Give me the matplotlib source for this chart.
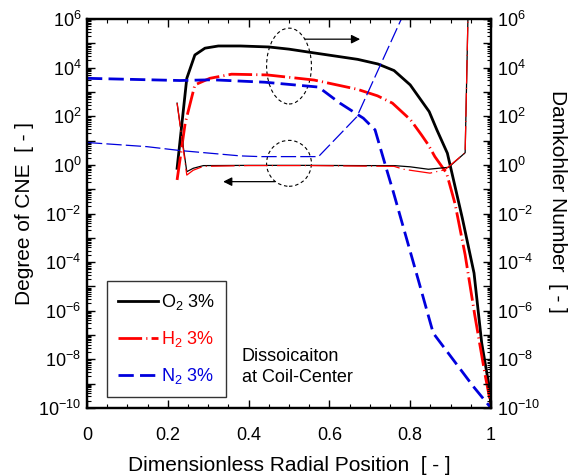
import numpy as np
import matplotlib
matplotlib.use("Agg")
import matplotlib.pyplot as plt
from matplotlib.patches import Ellipse
from matplotlib.ticker import FixedLocator, LogLocator, NullFormatter, MultipleLocator

plt.rcParams['font.family'] = ['Liberation Sans', 'DejaVu Sans']
plt.rcParams['mathtext.default'] = 'regular'
plt.rcParams['axes.unicode_minus'] = False
plt.rcParams['lines.scale_dashes'] = False

# ---- data (log10 of values) ----
o2_dam_x = [0.223, 0.247, 0.267, 0.292, 0.325, 0.38, 0.45, 0.50, 0.56, 0.67, 0.72, 0.76,
            0.80, 0.847, 0.866, 0.892, 0.929, 0.958, 0.977, 0.996, 1.0]
o2_dam_log = [-0.14, 3.56, 4.52, 4.80, 4.89, 4.89, 4.85, 4.76, 4.61, 4.34, 4.15, 3.88,
              3.29, 2.19, 1.44, 0.48, -2.19, -4.45, -7.33, -9.17, -10.0]

h2_dam_x = [0.223, 0.243, 0.267, 0.304, 0.358, 0.446, 0.562, 0.669, 0.719, 0.756, 0.801,
            0.828, 0.845, 0.861, 0.890, 0.911, 0.936, 0.96, 0.985, 1.0]
h2_dam_log = [-0.62, 1.71, 3.29, 3.56, 3.73, 3.70, 3.49, 3.11, 2.84, 2.54, 1.85,
              1.23, 0.82, 0.34, -0.34, -1.6, -3.7, -6.2, -8.6, -9.9]

n2_dam_x = [0.0, 0.23, 0.31, 0.44, 0.573, 0.626, 0.684, 0.713, 0.742, 0.758, 0.820,
            0.857, 0.956, 1.0]
n2_dam_log = [3.56, 3.47, 3.50, 3.40, 3.20, 2.54, 1.92, 1.44, -0.21, -1.10, -4.73,
              -6.92, -9.11, -10.0]

o2_cne_x = [0.223, 0.247, 0.263, 0.288, 0.40, 0.55, 0.68, 0.76, 0.80, 0.845, 0.895,
            0.936, 0.943]
o2_cne_log = [2.54, -0.28, -0.14, -0.03, -0.02, -0.02, -0.03, -0.03, -0.08, -0.18,
              -0.10, 0.5, 6.1]

h2_cne_x = [0.223, 0.247, 0.263, 0.288, 0.40, 0.55, 0.68, 0.76, 0.783, 0.849, 0.886,
            0.936, 0.943]
h2_cne_log = [2.54, -0.42, -0.22, -0.06, -0.03, -0.03, -0.05, -0.06, -0.18, -0.34,
              -0.20, 0.5, 6.1]

n2_cne_x = [0.0, 0.148, 0.230, 0.379, 0.428, 0.573, 0.668, 0.775, 0.79]
n2_cne_log = [0.92, 0.75, 0.59, 0.37, 0.34, 0.34, 1.98, 5.89, 6.4]

labels = [r'O$_2$ 3%', r'H$_2$ 3%', r'N$_2$ 3%']
colors = ['black', 'red', '#0000dd']

x_ticks = [0, 0.2, 0.4, 0.6, 0.8, 1.0]
x_tick_labels = ['0', '0.2', '0.4', '0.6', '0.8', '1']
y_exps = list(range(-10, 7))

fig = plt.figure(figsize=(5.75, 4.76), dpi=100)
ax = fig.add_axes([87/575, 1 - 408/476, 404/575, 389/476])

def p(v):
    return np.power(10.0, np.array(v))

red_dash = (17, 3, 0.8, 3)
ax.plot(o2_dam_x, p(o2_dam_log), color=colors[0], lw=2.0, label=labels[0])
ax.plot(h2_dam_x, p(h2_dam_log), color=colors[1], lw=2.0, dashes=red_dash, label=labels[1])
ax.plot(n2_dam_x, p(n2_dam_log), color=colors[2], lw=2.0, dashes=(11, 4.5), label=labels[2])

ax.plot(o2_cne_x, p(o2_cne_log), color=colors[0], lw=0.9)
ax.plot(h2_cne_x, p(h2_cne_log), color=colors[1], lw=0.9, dashes=red_dash)
ax.plot(n2_cne_x, p(n2_cne_log), color=colors[2], lw=0.9, dashes=(11, 3))

ax.set_xlim(0, 1)

def style_y(a):
    a.set_yscale('log')
    a.set_ylim(1e-10, 1e6)
    a.yaxis.set_major_locator(FixedLocator([10.0**e for e in y_exps]))
    a.yaxis.set_minor_locator(LogLocator(base=10, subs=np.arange(2, 10), numticks=40))
    a.yaxis.set_minor_formatter(NullFormatter())
    a.set_yticks([10.0**e for e in y_exps])
    a.set_yticklabels([(r'$10^{%d}$' % e) if e % 2 == 0 else '' for e in y_exps])

style_y(ax)
ax.set_xticks(x_ticks)
ax.set_xticklabels(x_tick_labels)
ax.xaxis.set_minor_locator(MultipleLocator(0.05))

ax2 = ax.twinx()
style_y(ax2)

for a in (ax, ax2):
    a.tick_params(which='major', direction='in', length=6, width=1, labelsize=13, pad=4)
    a.tick_params(which='minor', direction='in', length=3, width=0.8)
    for s in a.spines.values():
        s.set_linewidth(1.6)
ax.tick_params(axis='x', which='both', top=True)
ax.tick_params(axis='x', which='major', pad=14)

ax.set_xlabel('Dimensionless Radial Position  [ - ]', fontsize=15, labelpad=8)
ax.set_ylabel('Degree of CNE  [ - ]', fontsize=15, labelpad=3)
ax2.set_ylabel('Damkohler Number  [ - ]', fontsize=15, rotation=270, labelpad=20)
ax2.yaxis.label.set_y(0.532)

# ellipses and arrows
ax.add_patch(Ellipse((0.5, 0.879), 0.111, 0.195, transform=ax.transAxes, fill=False,
                     ec='black', lw=0.8, ls=(0, (2.5, 2))))
ax.add_patch(Ellipse((0.5, 0.629), 0.111, 0.118, transform=ax.transAxes, fill=False,
                     ec='black', lw=0.8, ls=(0, (2.5, 2))))
ax.annotate('', xy=(0.676, 10**5.17), xytext=(0.540, 10**5.17),
            arrowprops=dict(arrowstyle='-|>', color='black', lw=0.9, mutation_scale=13,
                            shrinkA=0, shrinkB=0))
ax.annotate('', xy=(0.337, 10**-0.69), xytext=(0.465, 10**-0.69),
            arrowprops=dict(arrowstyle='-|>', color='black', lw=0.9, mutation_scale=13,
                            shrinkA=0, shrinkB=0))

ax.text(0.383, 0.155, 'Dissoicaiton\nat Coil-Center', transform=ax.transAxes,
        fontsize=13, va='top', ha='left', linespacing=1.3)

leg = ax.legend(loc='lower left', bbox_to_anchor=(0.0495, 0.028), borderaxespad=0,
                fontsize=13, frameon=True, fancybox=False, edgecolor='black',
                handlelength=2.2, handletextpad=0.2, labelspacing=0.95, borderpad=0.6)
leg.get_frame().set_linewidth(1.0)
for t, c in zip(leg.get_texts(), colors):
    t.set_color(c)

fig.savefig('out.png', dpi=100)
